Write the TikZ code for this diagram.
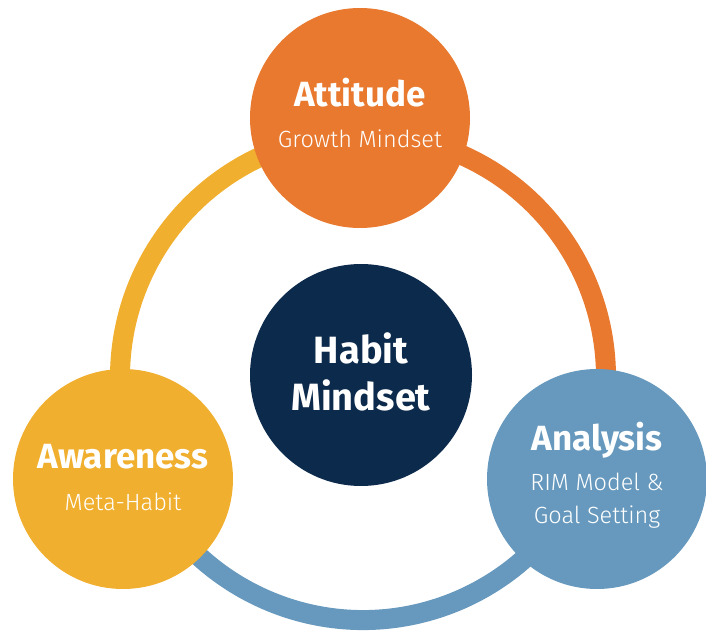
\documentclass[tikz,border=0pt]{standalone}
\usepackage{fontspec}
\setmainfont{Fira Sans}
\newfontfamily\lightfont{Fira Sans Light}
\usepackage{tikz}
\usetikzlibrary{
    calc,
    positioning
}

\definecolor{attorange}{RGB}{232,121,46}
\definecolor{awyellow}{RGB}{240,175,46}
\definecolor{anblue}{RGB}{102,153,189}
\definecolor{habitnavy}{RGB}{12,42,76}

\begin{document}
\begin{tikzpicture}[x=1pt, y=1pt,
    bubble/.style={circle, minimum size=220pt, inner sep=0pt},
    head/.style={text=white, anchor=base, font=\bfseries\fontsize{35}{38}\selectfont},
    sub/.style={text=white, anchor=base, font=\lightfont\fontsize{23.5}{27}\selectfont},
    ringpart/.style={line width=20pt}]
    \useasboundingbox (0,0) rectangle (706,630);

    \coordinate (hub) at (363,253);

    % the ring, split in three; the joins sit under the bubbles
    \draw[ringpart, awyellow] ($(hub)+(90:243)$) arc[start angle=90, end angle=200, radius=243];
    \draw[ringpart, anblue] ($(hub)+(200:243)$) arc[start angle=200, end angle=335, radius=243];
    \draw[ringpart, attorange] ($(hub)+(-25:243)$) arc[start angle=-25, end angle=90, radius=243];

    \node[bubble, fill=attorange] (att) at (360,512) {};
    \node[bubble, fill=awyellow] (aware) at (123,151) {};
    \node[bubble, fill=anblue] (ana) at (597,151) {};
    \node[bubble, fill=habitnavy, minimum size=222pt] (habit) at (361,255) {};

    \node[head] (atttitle) at ([yshift=11]att.center) {Attitude};
    \node[sub] (attsub) at ([yshift=-30]att.center) {Growth Mindset};

    \node[head] (awaretitle) at ([yshift=11]aware.center) {Awareness};
    \node[sub] (awaresub) at ([yshift=-31]aware.center) {Meta-Habit};

    \node[head] (anatitle) at ([yshift=29]ana.center) {Analysis};
    \node[sub] (anasub) at ([yshift=-11]ana.center) {RIM Model \&};
    \node[sub] (anasubb) at ([yshift=-44]ana.center) {Goal Setting};

    \node[head, font=\bfseries\fontsize{38}{42}\selectfont] (habittop) at ([yshift=12]habit.center) {Habit};
    \node[head, font=\bfseries\fontsize{38}{42}\selectfont] (habitbot) at ([yshift=-35]habit.center) {Mindset};
\end{tikzpicture}
\end{document}
